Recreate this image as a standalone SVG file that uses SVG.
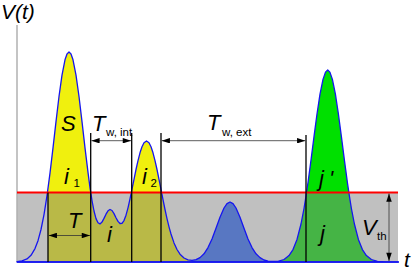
<svg xmlns="http://www.w3.org/2000/svg" xmlns:xlink="http://www.w3.org/1999/xlink" width="415" height="271" viewBox="0 0 415 271">
<style>
text{font-family:"Liberation Sans",Arial,sans-serif;fill:#000}
.m{font-size:22px;font-style:italic}
.e{font-size:21px;font-style:italic}
.s{font-size:11.5px}
.vl{stroke:#000;stroke-width:1.3;fill:none}
.dim{stroke:#333;stroke-width:0.8;fill:none;marker-start:url(#ah);marker-end:url(#ah)}
</style>
<defs>
<marker id="ah" viewBox="0 0 9 6" refX="9" refY="3" markerWidth="9" markerHeight="5.5" markerUnits="userSpaceOnUse" orient="auto-start-reverse">
<path d="M0,0 L9,3 L0,6 Z" fill="#000"/>
</marker>
<path id="area" d="M17,262 L17,261.7 22,260.9 27,258.9 31,255.3 35,248.6 38,240.7 41,229.5 44,214.6 47,195.6 50,173.1 53,147.9 56,121.6 59,96.5 62,75.1 65,59.8 67,54 69,52 71,54 73,59.8 76,75.1 79,96.5 82,121.6 85,147.9 88,172.3 90,187.6 92,200.6 94,211 96,218.6 98,222.8 100,223.9 102,222.1 104,218.4 106,214.2 108,210.8 110,209.5 112,210.5 114,213.6 116,217.7 118,221.4 120,223.5 122,223.3 124,220.6 126,215.2 128,207.8 130,198.9 132,189.1 134,179.3 136,169.5 138,160.6 140,152.8 142,146.8 144,142.8 146.5,141 149,142.8 151,146.8 153,152.8 155,160.6 157,169.5 159,179.3 161,189.5 163,199.7 165,209.5 167,218.6 169,226.8 171,234 174,242.9 177,249.5 180,254.2 184,258 188,259.9 192,260.4 196,259.7 200,257.6 204,253.8 208,247.6 212,238.9 216,228.3 220,217.3 224,208 227,203.6 230,202 233,203.6 236,208 240,217.3 244,228.3 248,238.9 252,247.6 256,253.8 260,257.6 264,260 268,261.1 273,261.5 278,261.3 284,259.5 289,255.6 293,249.6 297,239.4 301,224 304,208.5 306,196.2 308,182.5 311,160.1 314,136.7 317,114 320,94.2 323,79.4 325.5,72.1 327.7,70 329.9,72.1 332.4,79.4 335.4,94.2 338.4,114 341.4,136.7 344.4,160.1 347.4,182.5 349.4,196.2 351.4,208.5 354.4,224 358.4,239.4 362.4,249.6 366.4,255.6 371.4,259.5 377.4,261.3 383.4,261.7 398,262 Z"/>
<clipPath id="cYel"><rect x="17" y="0" width="183" height="192.5"/></clipPath>
<clipPath id="cOli"><rect x="48" y="192.5" width="144" height="70"/></clipPath>
<clipPath id="cBlu"><rect x="192" y="0" width="81" height="262"/></clipPath>
<clipPath id="cDgr"><rect x="273" y="192.5" width="125" height="70"/></clipPath>
<clipPath id="cBgr"><rect x="273" y="0" width="125" height="192.5"/></clipPath>
</defs>

<g id="background">
<rect x="17" y="192.5" width="381" height="69.5" fill="#c0c0c0"/>
<line x1="17" y1="25" x2="17" y2="262" stroke="#b0b0b0" stroke-width="1.5"/>
</g>

<g id="fills">
<use xlink:href="#area" href="#area" fill="#f0f00e" clip-path="url(#cYel)"/>
<use xlink:href="#area" href="#area" fill="#b9b947" clip-path="url(#cOli)"/>
<use xlink:href="#area" href="#area" fill="#5877c2" clip-path="url(#cBlu)"/>
<use xlink:href="#area" href="#area" fill="#45b445" clip-path="url(#cDgr)"/>
<use xlink:href="#area" href="#area" fill="#00e000" clip-path="url(#cBgr)"/>
</g>

<g id="curve">
<use xlink:href="#area" href="#area" fill="none" stroke="#1515f0" stroke-width="1.3" stroke-linejoin="round"/>
<line x1="17" y1="262" x2="399" y2="262" stroke="#1515f0" stroke-width="1.5"/>
<line id="threshold" x1="17" y1="192.5" x2="398" y2="192.5" stroke="#ff0000" stroke-width="2"/>
</g>

<g id="connectors">
<line class="vl" x1="48" y1="192.5" x2="48" y2="262"/>
<line class="vl" x1="90.7" y1="133" x2="90.7" y2="262"/>
<line class="vl" x1="131.7" y1="133" x2="131.7" y2="262"/>
<line class="vl" x1="161" y1="133" x2="161" y2="262"/>
<line class="vl" x1="306" y1="135" x2="306" y2="262"/>
<line class="dim" x1="91.4" y1="140.7" x2="131" y2="140.7"/>
<line class="dim" x1="161.7" y1="140.7" x2="305.3" y2="140.7"/>
<line class="dim" x1="48.7" y1="235.5" x2="90" y2="235.5"/>
<line class="dim" x1="389" y1="193.5" x2="389" y2="261"/>
</g>

<g id="labels">
<text class="e" x="1" y="19">V(t)</text>
<text class="m" x="61" y="130.5">S</text>
<text class="m" x="92" y="131">T</text>
<text class="s" x="106" y="135.5">w, int</text>
<text class="m" x="207" y="130">T</text>
<text class="s" x="222" y="135.5">w, ext</text>
<text class="m" x="64" y="183.5">i</text>
<text class="s" x="73.5" y="187">1</text>
<text class="m" x="142" y="183.5">i</text>
<text class="s" x="150.5" y="187">2</text>
<text class="m" x="68" y="228">T</text>
<text class="m" x="107" y="241.5">i</text>
<text class="m" x="319" y="185.5">j<tspan dx="5">'</tspan></text>
<text class="m" x="320" y="240.5">j</text>
<text class="m" x="362" y="235">V</text>
<text class="s" x="377" y="240">th</text>
<text class="e" x="404" y="266.5">t</text>
</g>
</svg>
